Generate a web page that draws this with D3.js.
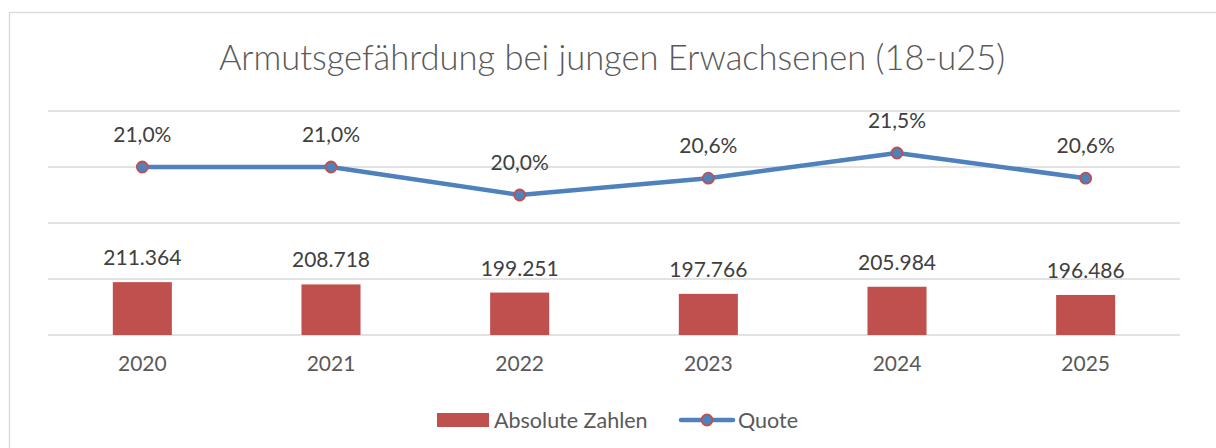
<!DOCTYPE html>
<html>
<head>
<meta charset="utf-8">
<script src="https://cdn.jsdelivr.net/npm/d3@7"></script>
<style>
  body { margin: 0; background: #fff; }
  text { font-family: Lato, "Noto Sans", sans-serif; }
</style>
</head>
<body>
<div id="chart"></div>
<script>
// data
const years = ["2020", "2021", "2022", "2023", "2024", "2025"];
const absolut = [211364, 208718, 199251, 197766, 205984, 196486];
const quote = [21.0, 21.0, 20.0, 20.6, 21.5, 20.6];
const quoteTicks = [15, 17, 19, 21, 23];

const width = 1216, height = 448,
	margin = {top: 111, right: 36, bottom: 113, left: 48},
	innerWidth = width - margin.left - margin.right,
	innerHeight = height - margin.top - margin.bottom;

const svg = d3.select("#chart").append("svg")
	.attr("width", width)
	.attr("height", height);

// chart frame
svg.append("rect")
	.attr("x", 9.5).attr("y", 12.5)
	.attr("width", 1220).attr("height", 460)
	.style("fill", "none")
	.style("stroke", "#d9d9d9")
	.style("stroke-width", 1.3);

svg.append("text")
	.attr("x", 612).attr("y", 70)
	.attr("text-anchor", "middle")
	.style("font-size", "34.5px")
	.style("font-weight", 300)
	.style("fill", "#595959")
	.text("Armutsgefährdung bei jungen Erwachsenen (18-u25)");

const g = svg.append("g")
	.attr("transform", `translate(${margin.left},${margin.top})`);

const x = d3.scaleBand().domain(years).range([0, innerWidth]);
const yBar = d3.scaleLinear().domain([150000, 410000]).range([innerHeight, 0]);
const yLine = d3.scaleLinear().domain([15, 23]).range([innerHeight, 0]);

// gridlines
g.selectAll(".grid")
	.data(quoteTicks)
	.enter().append("line")
	.attr("x1", 0).attr("x2", innerWidth)
	.attr("y1", d => yLine(d)).attr("y2", d => yLine(d))
	.style("stroke", "#d9d9d9")
	.style("stroke-width", 1.5);

const barW = x.bandwidth() * 0.313;
const fmtAbs = d3.formatLocale({decimal: ",", thousands: ".", grouping: [3], currency: ["", "€"]}).format(",d");
const fmtPct = d => d.toFixed(1).replace(".", ",") + "%";

g.selectAll(".bar")
	.data(absolut)
	.enter().append("rect")
	.attr("x", (d, i) => x(years[i]) + x.bandwidth() / 2 - barW / 2)
	.attr("y", d => yBar(d))
	.attr("width", barW)
	.attr("height", d => innerHeight - yBar(d))
	.style("fill", "#c0504d");

g.selectAll(".barlabel")
	.data(absolut)
	.enter().append("text")
	.attr("x", (d, i) => x(years[i]) + x.bandwidth() / 2)
	.attr("y", d => yBar(d) - 17)
	.attr("text-anchor", "middle")
	.style("font-size", "21px")
	.style("fill", "#404040")
	.text(d => fmtAbs(d));

const line = d3.line()
	.x((d, i) => x(years[i]) + x.bandwidth() / 2)
	.y(d => yLine(d));

g.append("path")
	.datum(quote)
	.attr("d", line)
	.style("fill", "none")
	.style("stroke", "#4f81bd")
	.style("stroke-width", 4.5)
	.style("stroke-linejoin", "round");

g.selectAll(".dot")
	.data(quote)
	.enter().append("circle")
	.attr("cx", (d, i) => x(years[i]) + x.bandwidth() / 2)
	.attr("cy", d => yLine(d))
	.attr("r", 5.5)
	.style("fill", "#4f81bd")
	.style("stroke", "#c0504d")
	.style("stroke-width", 1.8);

g.selectAll(".linelabel")
	.data(quote)
	.enter().append("text")
	.attr("x", (d, i) => x(years[i]) + x.bandwidth() / 2)
	.attr("y", d => yLine(d) - 25)
	.attr("text-anchor", "middle")
	.style("font-size", "21px")
	.style("fill", "#404040")
	.text(fmtPct);

// category axis (labels only)
const xAxis = d3.axisBottom(x).tickSize(0).tickPadding(21);
g.append("g")
	.attr("transform", `translate(0,${innerHeight})`)
	.call(xAxis)
	.call(a => a.select(".domain").remove())
	.selectAll("text")
	.style("font-family", "Lato, 'Noto Sans', sans-serif")
	.style("font-size", "21px")
	.style("fill", "#595959");

// legend
const legend = svg.append("g");
legend.append("rect")
	.attr("x", 437).attr("y", 413)
	.attr("width", 52).attr("height", 14)
	.style("fill", "#c0504d");
legend.append("text")
	.attr("x", 494).attr("y", 428)
	.style("font-size", "21.5px")
	.style("fill", "#595959")
	.text("Absolute Zahlen");
legend.append("line")
	.attr("x1", 681).attr("x2", 733)
	.attr("y1", 420).attr("y2", 420)
	.style("stroke", "#4f81bd")
	.style("stroke-width", 4.5)
	.style("stroke-linecap", "round");
legend.append("circle")
	.attr("cx", 707).attr("cy", 420).attr("r", 5.5)
	.style("fill", "#4f81bd")
	.style("stroke", "#c0504d")
	.style("stroke-width", 1.8);
legend.append("text")
	.attr("x", 738).attr("y", 428)
	.style("font-size", "21.5px")
	.style("fill", "#595959")
	.text("Quote");
</script>
</body>
</html>
